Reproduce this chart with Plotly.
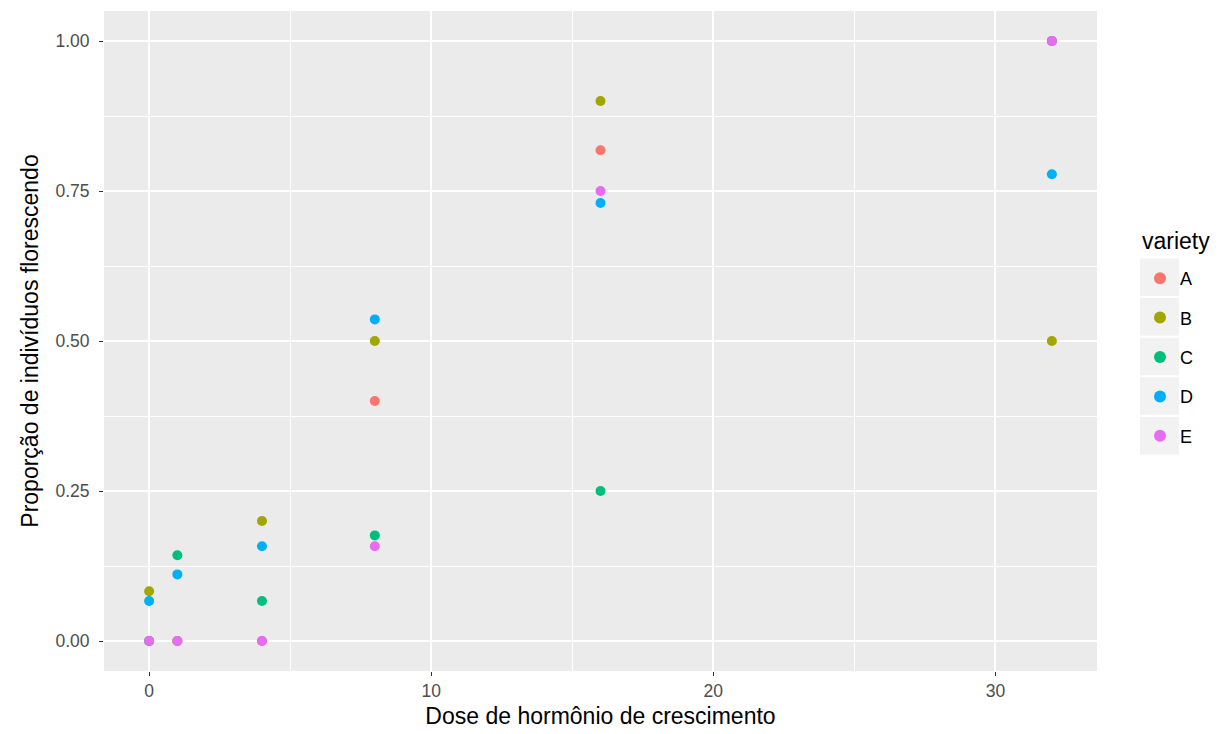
import plotly.graph_objects as go

dose = [0, 1, 4, 8, 16, 32]
variety = ["A", "B", "C", "D", "E"]
prop_A = [0.0, 0.0, 0.0, 0.4, 0.818, 1.0]
prop_B = [0.083, 0.0, 0.2, 0.5, 0.9, 0.5]
prop_C = [0.0, 0.143, 0.0667, 0.176, 0.25, 1.0]
prop_D = [0.0667, 0.111, 0.158, 0.536, 0.73, 0.778]
prop_E = [0.0, 0.0, 0.0, 0.158, 0.75, 1.0]
colors = ["#F8766D", "#A3A500", "#00BF7D", "#00B0F6", "#E76BF3"]

series = [prop_A, prop_B, prop_C, prop_D, prop_E]

fig = go.Figure()
for name, ys, col in zip(variety, series, colors):
    fig.add_trace(go.Scatter(x=dose, y=ys, mode="markers", name=name, legendgroup=name,
                             marker=dict(color=col, size=10, line=dict(width=0))))

# plot area geometry (pixels)
W, H = 1218, 734
ML, MR, MT, MB = 104, 121, 11, 63
pw, ph = W - ML - MR, H - MT - MB

def px_x(p):
    return (p - ML) / pw

def px_y(p):
    return (H - MB - p) / ph

# legend key backgrounds (ggplot style)
key_top = 258.5
key_step = 39.6
for i in range(len(variety)):
    y0 = key_top + i * key_step
    fig.add_shape(type="rect", xref="paper", yref="paper",
                  x0=px_x(1140), x1=px_x(1179), y0=px_y(y0 + 37.5), y1=px_y(y0),
                  fillcolor="#F2F2F2", line=dict(width=0), layer="below")

font = "Liberation Sans, Arial, sans-serif"

fig.add_annotation(text="variety", xref="paper", yref="paper", x=px_x(1140), y=px_y(241),
                   xanchor="left", yanchor="middle", showarrow=False,
                   font=dict(size=23, color="black", family=font))

fig.update_layout(
    width=W, height=H,
    margin=dict(l=ML, r=MR, t=MT, b=MB),
    paper_bgcolor="white", plot_bgcolor="#EBEBEB",
    font=dict(family=font, size=18, color="black"),
    showlegend=True,
    legend=dict(x=px_x(1140), xanchor="left", y=px_y(260), yanchor="top",
                bgcolor="rgba(0,0,0,0)", font=dict(size=18), itemsizing="constant",
                tracegroupgap=13, borderwidth=0),
    xaxis=dict(range=[-1.6, 33.6], tickvals=[0, 10, 20, 30], showgrid=True,
               gridcolor="white", gridwidth=2, zeroline=False,
               ticks="outside", ticklen=4, tickcolor="#333333", tickwidth=1,
               tickfont=dict(size=17.5, color="#4D4D4D"),
               minor=dict(tickvals=[5, 15, 25], showgrid=True, gridcolor="white", gridwidth=1, ticks=""),
               title=dict(text="Dose de hormônio de crescimento", font=dict(size=23), standoff=7)),
    yaxis=dict(range=[-0.05, 1.05], tickvals=[0, 0.25, 0.5, 0.75, 1.0], tickformat=".2f",
               showgrid=True, gridcolor="white", gridwidth=2, zeroline=False,
               ticks="outside", ticklen=4, tickcolor="#333333", tickwidth=1,
               ticklabelstandoff=6,
               tickfont=dict(size=17.5, color="#4D4D4D"),
               minor=dict(tickvals=[0.125, 0.375, 0.625, 0.875], showgrid=True, gridcolor="white", gridwidth=1, ticks=""),
               title=dict(text="Proporção de indivíduos florescendo", font=dict(size=23), standoff=10)),
)

fig.write_html("out.html")
